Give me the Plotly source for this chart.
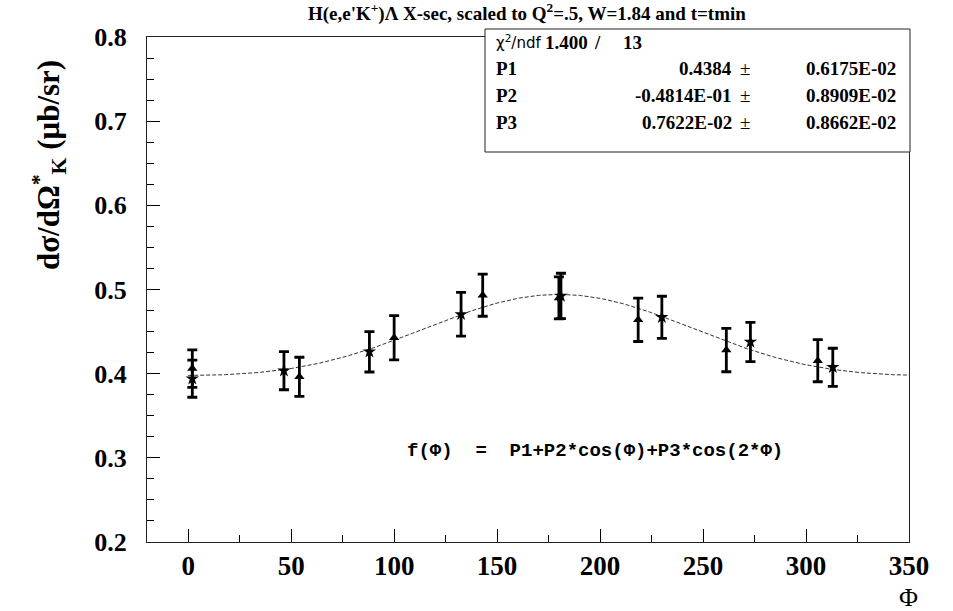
import numpy as np
import plotly.graph_objects as go

# Measured cross-section points (phi in degrees), two data sets
phi_star = [2, 46.5, 88, 132.5, 181, 230, 273, 313]
xs_star = [0.394, 0.4035, 0.426, 0.4705, 0.4923, 0.467, 0.4376, 0.4076]
err_star = [0.022, 0.0226, 0.024, 0.026, 0.027, 0.025, 0.0234, 0.0226]

phi_tri = [2, 54, 100, 143, 180, 218.5, 261.3, 305.7]
xs_tri = [0.406, 0.3963, 0.4426, 0.4932, 0.490, 0.464, 0.428, 0.4154]
err_tri = [0.0223, 0.0232, 0.0263, 0.025, 0.025, 0.0258, 0.0257, 0.025]

# Fit parameters: f(phi) = P1 + P2*cos(phi) + P3*cos(2*phi)
P1, P2, P3 = 0.4384, -0.04814, 0.007622
chi2, ndf = 1.400, 13

x_ticks = [0, 50, 100, 150, 200, 250, 300, 350]
y_ticks = [0.2, 0.3, 0.4, 0.5, 0.6, 0.7, 0.8]

SERIF = "Liberation Serif, Times New Roman, serif"
MONO = "Liberation Mono, Courier New, monospace"

phi_fit = np.linspace(0, 360, 361)
f_fit = P1 + P2 * np.cos(np.radians(phi_fit)) + P3 * np.cos(np.radians(2 * phi_fit))

fig = go.Figure()
fig.add_trace(go.Scatter(
    x=phi_fit, y=f_fit, mode="lines",
    line=dict(color="#333333", width=1, dash="4px,2px"),
    hoverinfo="skip", showlegend=False,
))
errstyle = dict(type="data", visible=True, color="black", thickness=2.8, width=5)
fig.add_trace(go.Scatter(
    x=phi_star, y=xs_star, mode="markers",
    marker=dict(symbol="star", size=10, color="black"),
    error_y=dict(array=err_star, **errstyle), showlegend=False,
))
fig.add_trace(go.Scatter(
    x=phi_tri, y=xs_tri, mode="markers",
    marker=dict(symbol="triangle-up", size=9, color="black"),
    error_y=dict(array=err_tri, **errstyle), showlegend=False,
))

W, H = 953, 611
L, R, T, B = 147, 44, 37, 69
pw, ph = W - L - R, H - T - B


def px(xp):
    return (xp - L) / pw


def py(yp):
    return (H - B - yp) / ph


fig.update_layout(
    width=W, height=H,
    margin=dict(l=L, r=R, t=T, b=B, pad=0),
    paper_bgcolor="white", plot_bgcolor="white",
    font=dict(family=SERIF, color="black"),
    xaxis=dict(
        range=[-20, 350], tickvals=x_ticks, ticktext=[str(v) for v in x_ticks],
        ticks="inside", ticklen=13, tickwidth=1, tickcolor="black",
        minor=dict(ticks="inside", ticklen=7, dtick=25, tick0=0, tickcolor="black"),
        showline=True, linecolor="#222222", linewidth=1, mirror=True,
        showgrid=False, zeroline=False,
        tickfont=dict(family=SERIF, size=27, color="black", weight="bold"),
        ticklabelstandoff=0,
    ),
    yaxis=dict(
        range=[0.2, 0.8], tickvals=y_ticks, ticktext=[f"{v:.1f}" for v in y_ticks],
        ticks="inside", ticklen=13, tickwidth=1, tickcolor="black",
        minor=dict(ticks="inside", ticklen=7, dtick=0.025, tick0=0.2, tickcolor="black"),
        showline=True, linecolor="#222222", linewidth=1, mirror=True,
        showgrid=False, zeroline=False,
        tickfont=dict(family=SERIF, size=26, color="black", weight="bold"),
        ticklabelstandoff=14,
    ),
)

ann = []
# title
ann.append(dict(
    x=px(527), y=py(13), xref="paper", yref="paper", showarrow=False,
    text="<b>H(e,e'K<sup>+</sup>)Λ X-sec, scaled to Q<sup>2</sup>=.5, W=1.84 and t=tmin</b>",
    font=dict(family=SERIF, size=19), xanchor="center", yanchor="middle",
))
# y-axis title
ann.append(dict(
    x=px(49), y=py(165), xref="paper", yref="paper", showarrow=False, textangle=-90,
    text="<b>dσ/dΩ<sup>*</sup><sub>K</sub> (μb/sr)</b>",
    font=dict(family=SERIF, size=31), xanchor="center", yanchor="middle",
))
# x-axis title
ann.append(dict(
    x=px(908), y=py(597), xref="paper", yref="paper", showarrow=False,
    text="Φ", font=dict(family=SERIF, size=26), xanchor="center", yanchor="middle",
))
# fit formula
ann.append(dict(
    x=px(595), y=py(451), xref="paper", yref="paper", showarrow=False,
    text="f(Φ)  =  P1+P2*cos(Φ)+P3*cos(2*Φ)",
    font=dict(family=MONO, size=19, weight="bold"), xanchor="center", yanchor="middle",
))

# statistics box
fig.add_shape(type="rect", xref="paper", yref="paper",
              x0=px(485), x1=px(910), y0=py(152), y1=py(29),
              line=dict(color="#222222", width=1), fillcolor="white", layer="above")

stat_font = dict(family=SERIF, size=19, weight="bold")
rows_y = [42, 68, 95, 122]
ann.append(dict(x=px(494), y=py(rows_y[0]), xref="paper", yref="paper", showarrow=False,
                text="χ<sup>2</sup>/ndf", font=dict(family="DejaVu Sans, sans-serif", size=15),
                xanchor="left", yanchor="middle"))
ann.append(dict(x=px(543), y=py(rows_y[0]), xref="paper", yref="paper", showarrow=False,
                text=f"{chi2:.3f}", font=stat_font, xanchor="left", yanchor="middle"))
ann.append(dict(x=px(597), y=py(rows_y[0]), xref="paper", yref="paper", showarrow=False,
                text="/", font=stat_font, xanchor="center", yanchor="middle"))
ann.append(dict(x=px(621), y=py(rows_y[0]), xref="paper", yref="paper", showarrow=False,
                text=f"{ndf}", font=stat_font, xanchor="left", yanchor="middle"))

names = ["P1", "P2", "P3"]
vals = ["0.4384", "-0.4814E-01", "0.7622E-02"]
errs = ["0.6175E-02", "0.8909E-02", "0.8662E-02"]
for yrow, n, v, e in zip(rows_y[1:], names, vals, errs):
    ann.append(dict(x=px(494), y=py(yrow), xref="paper", yref="paper", showarrow=False,
                    text=n, font=stat_font, xanchor="left", yanchor="middle"))
    ann.append(dict(x=px(734), y=py(yrow), xref="paper", yref="paper", showarrow=False,
                    text=v, font=stat_font, xanchor="right", yanchor="middle"))
    ann.append(dict(x=px(745), y=py(yrow), xref="paper", yref="paper", showarrow=False,
                    text="±", font=dict(family=SERIF, size=19), xanchor="center", yanchor="middle"))
    ann.append(dict(x=px(898), y=py(yrow), xref="paper", yref="paper", showarrow=False,
                    text=e, font=stat_font, xanchor="right", yanchor="middle"))

fig.update_layout(annotations=ann)
fig.write_html("out.html")
